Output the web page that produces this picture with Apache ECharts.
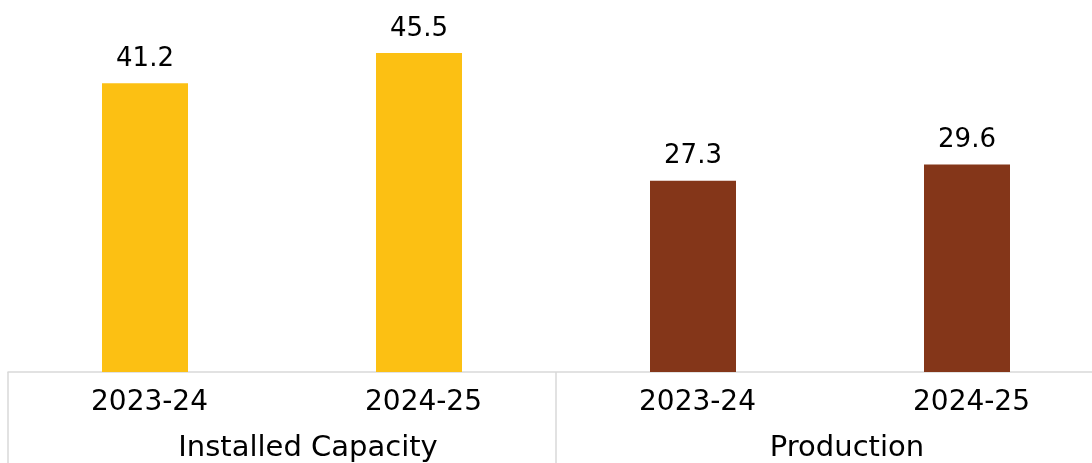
<!DOCTYPE html>
<html>
<head>
<meta charset="utf-8">
<script src="https://cdn.jsdelivr.net/npm/echarts@6/dist/echarts.min.js"></script>
<style>
html,body{margin:0;padding:0;background:#fff;}
#chart{width:1092px;height:463px;}
</style>
</head>
<body>
<div id="chart"></div>
<script>
const years = ['2023-24', '2024-25', '2023-24', '2024-25'];
const groups = ['Installed Capacity', 'Production'];
const values = [41.2, 45.5, 27.3, 29.6];
const groupColors = ['#FCC013', '#843619'];
const groupOfBar = [0, 0, 1, 1];

const chart = echarts.init(document.getElementById('chart'));
const font = 'DejaVu Sans';
const groupTextBase = { color: '#000', fontFamily: font, fontSize: 29 };
chart.setOption({
  animation: false,
  grid: { left: 8, top: 21.5, right: -12, bottom: 91, outerBoundsMode: 'none', containLabel: false },
  xAxis: [
    {
      type: 'category',
      data: years,
      position: 'bottom',
      axisLine: { show: true, lineStyle: { color: '#D9D9D9', width: 1.5 } },
      axisTick: { show: false },
      axisLabel: { color: '#000', fontFamily: font, fontSize: 28, margin: 17, padding: [0, 0, 0, 9] }
    },
    {
      type: 'category',
      data: groups,
      position: 'bottom',
      axisLine: { show: false },
      axisTick: { show: true, length: 95, lineStyle: { color: '#D9D9D9', width: 1.5 } },
      axisLabel: {
        margin: 62,
        formatter: (v, i) => '{g' + i + '|' + v + '}',
        rich: {
          g0: Object.assign({ padding: [0, 0, 0, 52] }, groupTextBase),
          g1: Object.assign({ padding: [0, 0, 0, 34] }, groupTextBase)
        }
      }
    }
  ],
  yAxis: { type: 'value', min: 0, max: 50, show: false },
  series: [{
    type: 'bar',
    xAxisIndex: 0,
    barWidth: 86,
    data: values.map((v, i) => ({ value: v, itemStyle: { color: groupColors[groupOfBar[i]] } })),
    label: { show: true, position: 'top', distance: 11, color: '#000', fontFamily: font, fontSize: 26 }
  }]
});
</script>
</body>
</html>
